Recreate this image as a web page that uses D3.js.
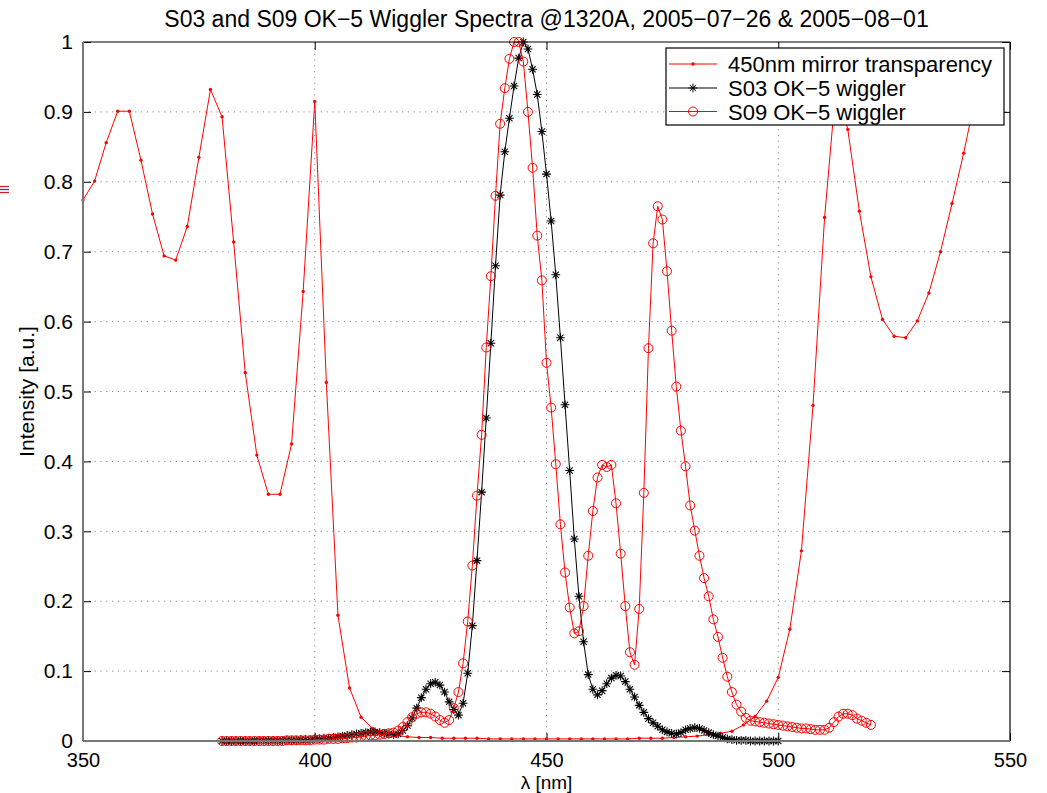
<!DOCTYPE html>
<html>
<head>
<meta charset="utf-8">
<script src="https://cdn.jsdelivr.net/npm/d3@7/dist/d3.min.js"></script>
<style>
  html, body { margin: 0; padding: 0; background: #fff; }
  svg { display: block; font-family: "Liberation Sans", Arial, Helvetica, sans-serif; }
</style>
</head>
<body>
<svg id="chart" width="1047" height="793"></svg>
<script>
// ---- data -------------------------------------------------------------
// 450 nm mirror transparency, sampled every 2.5 nm from 350 nm
const mirrorStart = 350, mirrorStep = 2.5;
const mirrorValues = [
  0.774, 0.801, 0.856, 0.901, 0.901, 0.831, 0.754, 0.694, 0.688, 0.736,
  0.835, 0.932, 0.893, 0.714, 0.527, 0.409, 0.353, 0.353, 0.425, 0.643,
  0.915, 0.513, 0.180, 0.076, 0.034, 0.018, 0.011, 0.008, 0.006, 0.005,
  0.005, 0.004, 0.004, 0.004, 0.004, 0.003, 0.003, 0.003, 0.003, 0.003,
  0.003, 0.003, 0.003, 0.003, 0.003, 0.003, 0.003, 0.003, 0.004, 0.004,
  0.004, 0.005, 0.006, 0.007, 0.009, 0.011, 0.014, 0.023, 0.035, 0.057,
  0.091, 0.160, 0.272, 0.480, 0.749, 0.940, 0.875, 0.758, 0.664, 0.603,
  0.579, 0.577, 0.601, 0.641, 0.700, 0.769, 0.841, 0.920, 0.985
];

// S03 OK-5 wiggler spectrum, 1 nm steps from 380 nm
const s03Start = 380;
const s03Values = [
  0.000, 0.000, 0.000, 0.000, 0.000, 0.000, 0.000, 0.000, 0.001, 0.001,
  0.001, 0.001, 0.001, 0.001, 0.001, 0.001, 0.001, 0.002, 0.002, 0.002,
  0.003, 0.003, 0.004, 0.004, 0.005, 0.006, 0.007, 0.008, 0.009, 0.010,
  0.011, 0.012, 0.013, 0.013, 0.012, 0.011, 0.010, 0.009, 0.010, 0.015,
  0.022, 0.033, 0.047, 0.062, 0.074, 0.082, 0.084, 0.080, 0.070, 0.056,
  0.045, 0.037, 0.054, 0.097, 0.165, 0.258, 0.356, 0.462, 0.569, 0.680,
  0.781, 0.843, 0.891, 0.937, 0.977, 1.000, 0.990, 0.961, 0.925, 0.872,
  0.811, 0.744, 0.667, 0.577, 0.481, 0.387, 0.289, 0.207, 0.142, 0.095,
  0.074, 0.066, 0.072, 0.082, 0.090, 0.094, 0.093, 0.085, 0.074, 0.063,
  0.051, 0.041, 0.032, 0.026, 0.021, 0.016, 0.013, 0.011, 0.010, 0.012,
  0.016, 0.018, 0.019, 0.018, 0.015, 0.012, 0.009, 0.007, 0.005, 0.003,
  0.002, 0.001, 0.001, 0.001, 0.000, 0.000, 0.000, 0.000, 0.000, 0.000,
  0.000
];

// S09 OK-5 wiggler spectrum, 1 nm steps from 380 nm
const s09Start = 380;
const s09Values = [
  0.000, 0.000, 0.000, 0.000, 0.000, 0.000, 0.000, 0.000, 0.000, 0.000,
  0.000, 0.000, 0.000, 0.000, 0.001, 0.001, 0.001, 0.001, 0.001, 0.001,
  0.002, 0.002, 0.002, 0.003, 0.003, 0.003, 0.004, 0.004, 0.005, 0.005,
  0.006, 0.007, 0.008, 0.008, 0.009, 0.010, 0.011, 0.012, 0.015, 0.020,
  0.027, 0.034, 0.039, 0.041, 0.041, 0.039, 0.035, 0.030, 0.026, 0.030,
  0.047, 0.070, 0.111, 0.171, 0.251, 0.351, 0.438, 0.563, 0.665, 0.780,
  0.883, 0.934, 0.976, 1.000, 1.000, 0.972, 0.900, 0.820, 0.723, 0.659,
  0.541, 0.477, 0.396, 0.310, 0.241, 0.191, 0.154, 0.157, 0.193, 0.265,
  0.329, 0.377, 0.395, 0.392, 0.395, 0.340, 0.268, 0.193, 0.127, 0.109,
  0.189, 0.355, 0.562, 0.712, 0.765, 0.746, 0.672, 0.587, 0.507, 0.444,
  0.393, 0.337, 0.301, 0.265, 0.233, 0.207, 0.174, 0.149, 0.119, 0.092,
  0.070, 0.052, 0.042, 0.033, 0.029, 0.028, 0.027, 0.026, 0.025, 0.024,
  0.023, 0.022, 0.021, 0.020, 0.019, 0.018, 0.018, 0.017, 0.016, 0.016,
  0.016, 0.019, 0.027, 0.035, 0.039, 0.039, 0.037, 0.032, 0.029, 0.026,
  0.023
];

const xTicks = [350, 400, 450, 500, 550];
const yTicks = [0, 0.1, 0.2, 0.3, 0.4, 0.5, 0.6, 0.7, 0.8, 0.9, 1];
const yTickLabels = ["0", "0.1", "0.2", "0.3", "0.4", "0.5", "0.6", "0.7", "0.8", "0.9", "1"];

const seriesNames = ["450nm mirror transparency", "S03 OK\u22125 wiggler", "S09 OK\u22125 wiggler"];
const titleText = "S03 and S09 OK\u22125 Wiggler Spectra @1320A, 2005\u221207\u221226 & 2005\u221208\u221201";
const xLabel = "\u03bb [nm]";
const yLabel = "Intensity [a.u.]";

// ---- helpers ----------------------------------------------------------
const toPoints = (start, step, vals) => vals.map((v, i) => ({ x: start + i * step, y: v }));
const mirror = toPoints(mirrorStart, mirrorStep, mirrorValues);
const s03 = toPoints(s03Start, 1, s03Values);
const s09 = toPoints(s09Start, 1, s09Values);

// ---- layout -----------------------------------------------------------
const L = 83, R = 1010, T = 42, B = 741;
const svg = d3.select("#chart");
const yTickFont = 21, xTickFont = 20, legendFont = 22, titleFont = 23, labelFont = 19;

const x = d3.scaleLinear().domain([350, 550]).range([L, R]);
const y = d3.scaleLinear().domain([0, 1]).range([B, T]);

// dotted grid
const grid = svg.append("g").attr("stroke", "#8a8a8a").attr("stroke-width", 1)
  .attr("stroke-dasharray", "1.2,4.6");
grid.selectAll("line.gx").data(xTicks.slice(1, -1)).join("line")
  .attr("x1", d => x(d)).attr("x2", d => x(d)).attr("y1", T).attr("y2", B);
grid.selectAll("line.gy").data(yTicks.slice(1, -1)).join("line")
  .attr("y1", d => y(d)).attr("y2", d => y(d)).attr("x1", L).attr("x2", R);

// axes (inward ticks on all four sides)
const tickLen = 8;
const axisLeft = d3.axisLeft(y).tickValues(yTicks).tickSize(-tickLen).tickPadding(10)
  .tickFormat((d, i) => yTickLabels[i]);
const axisBottom = d3.axisBottom(x).tickValues(xTicks).tickSize(-tickLen).tickPadding(12)
  .tickFormat(d3.format("d"));
const axisRight = d3.axisRight(y).tickValues(yTicks).tickSize(-tickLen).tickFormat("");
const axisTop = d3.axisTop(x).tickValues(xTicks).tickSize(-tickLen).tickFormat("");

function styleAxis(size) {
  return g => {
    g.select(".domain").remove();
    g.selectAll(".tick line").attr("stroke", "#000");
    g.selectAll(".tick text").attr("fill", "#000").attr("font-size", size)
      .attr("font-family", '"Liberation Sans", Arial, Helvetica, sans-serif');
  };
}
svg.append("g").attr("transform", `translate(${L},0)`).call(axisLeft).call(styleAxis(yTickFont));
svg.append("g").attr("transform", `translate(0,${B})`).call(axisBottom).call(styleAxis(xTickFont));
svg.append("g").attr("transform", `translate(${R},0)`).call(axisRight).call(styleAxis(yTickFont));
svg.append("g").attr("transform", `translate(0,${T})`).call(axisTop).call(styleAxis(xTickFont));

// series
const line = d3.line().x(d => x(d.x)).y(d => y(d.y));
const starPath = "M-4.4,0H4.4M0,-4.4V4.4M-3.1,-3.1L3.1,3.1M-3.1,3.1L3.1,-3.1";

const plot = svg.append("g");
// mirror transparency: red line with point markers
plot.append("path").datum(mirror).attr("d", line)
  .attr("fill", "none").attr("stroke", "#ff0000").attr("stroke-width", 1);
plot.append("g").selectAll("circle").data(mirror).join("circle")
  .attr("cx", d => x(d.x)).attr("cy", d => y(d.y)).attr("r", 1.7).attr("fill", "#ff0000");

// S03: black line with asterisks
plot.append("path").datum(s03).attr("d", line)
  .attr("fill", "none").attr("stroke", "#000").attr("stroke-width", 1);
plot.append("g").selectAll("path").data(s03).join("path")
  .attr("transform", d => `translate(${x(d.x)},${y(d.y)})`)
  .attr("d", starPath).attr("stroke", "#000").attr("stroke-width", 1.1).attr("fill", "none");

// S09: red line with open circles
plot.append("path").datum(s09).attr("d", line)
  .attr("fill", "none").attr("stroke", "#ff0000").attr("stroke-width", 1);
plot.append("g").selectAll("circle").data(s09).join("circle")
  .attr("cx", d => x(d.x)).attr("cy", d => y(d.y)).attr("r", 4.5)
  .attr("fill", "none").attr("stroke", "#ff0000").attr("stroke-width", 1);

// frame: grey left/bottom, black top/right
svg.append("line").attr("x1", L).attr("x2", R).attr("y1", T).attr("y2", T).attr("stroke", "#000").attr("stroke-width", 1.2);
svg.append("line").attr("x1", R).attr("x2", R).attr("y1", T).attr("y2", B).attr("stroke", "#000").attr("stroke-width", 1.2);
svg.append("line").attr("x1", L).attr("x2", L).attr("y1", T).attr("y2", B).attr("stroke", "#777").attr("stroke-width", 2);
svg.append("line").attr("x1", L).attr("x2", R).attr("y1", B).attr("y2", B).attr("stroke", "#777").attr("stroke-width", 2);

// legend
const lg = svg.append("g");
const lgX = 666, lgY = 48, lgW = 338, lgH = 77;
lg.append("rect").attr("x", lgX).attr("y", lgY).attr("width", lgW).attr("height", lgH)
  .attr("fill", "#fff").attr("stroke", "#000").attr("stroke-width", 1.2);
const rowY = [64, 88, 111.5];
const lineCol = ["#ff0000", "#000", "#ff0000"];
seriesNames.forEach((name, i) => {
  const ry = rowY[i];
  lg.append("line").attr("x1", 669).attr("x2", 717).attr("y1", ry).attr("y2", ry)
    .attr("stroke", lineCol[i]).attr("stroke-width", 1);
  if (i === 0) {
    lg.append("circle").attr("cx", 693).attr("cy", ry).attr("r", 1.7).attr("fill", "#ff0000");
  } else if (i === 1) {
    lg.append("path").attr("transform", `translate(693,${ry})`).attr("d", starPath)
      .attr("stroke", "#000").attr("fill", "none");
  } else {
    lg.append("circle").attr("cx", 693).attr("cy", ry).attr("r", 4.5)
      .attr("fill", "none").attr("stroke", "#ff0000");
  }
  lg.append("text").attr("x", 728).attr("y", ry + 8).attr("font-size", legendFont)
    .attr("fill", "#000").text(name);
});

// titles
svg.append("text").attr("x", (L + R) / 2).attr("y", 27).attr("text-anchor", "middle")
  .attr("font-size", titleFont).attr("fill", "#000").text(titleText);
svg.append("text").attr("x", (L + R) / 2).attr("y", 788.5).attr("text-anchor", "middle")
  .attr("font-size", labelFont).attr("fill", "#000").text(xLabel);
svg.append("text").attr("transform", `translate(34,${(T + B) / 2}) rotate(-90)`)
  .attr("text-anchor", "middle").attr("font-size", 21).attr("fill", "#000").text(yLabel);

// small colour swatch at the left margin
const sw = svg.append("g").attr("stroke-width", 1.3);
sw.append("line").attr("x1", 0).attr("x2", 9).attr("y1", 186.5).attr("y2", 186.5).attr("stroke", "#d02020");
sw.append("line").attr("x1", 0).attr("x2", 9).attr("y1", 189.5).attr("y2", 189.5).attr("stroke", "#3040c0");
sw.append("line").attr("x1", 0).attr("x2", 9).attr("y1", 192.5).attr("y2", 192.5).attr("stroke", "#d02020");
</script>
</body>
</html>
